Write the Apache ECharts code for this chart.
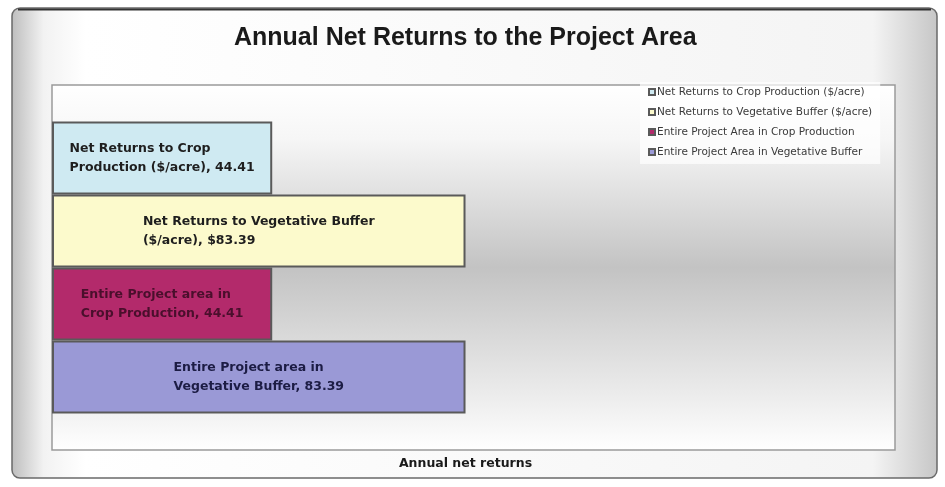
<!DOCTYPE html>
<html>
<head>
<meta charset="utf-8">
<script src="https://cdn.jsdelivr.net/npm/echarts@6/dist/echarts.min.js"></script>
<style>
  html, body { margin: 0; padding: 0; background: #ffffff; }
  #chart { width: 945px; height: 487px; }
</style>
</head>
<body>
<div id="chart"></div>
<script>
// Chart data
const titleText = 'Annual Net Returns to the Project Area';
const axisTitle = 'Annual net returns';
const categories = ['Annual net returns'];
const seriesNames = [
  'Net Returns to Crop Production ($/acre)',
  'Net Returns to Vegetative Buffer ($/acre)',
  'Entire Project Area in Crop Production',
  'Entire Project Area in Vegetative Buffer'
];
const seriesValues = [44.41, 83.39, 44.41, 83.39];
const labelLines = [
  ['Net Returns to Crop', 'Production ($/acre), '],
  ['Net Returns to Vegetative Buffer', '($/acre), $'],
  ['Entire Project area in', 'Crop Production, '],
  ['Entire Project area in', 'Vegetative Buffer, ']
];
const seriesColors = ['#cfeaf2', '#fcfacc', '#b32a6b', '#9a99d6'];
const labelColors = ['#1e1e1e', '#1e1e1e', '#4a0f2c', '#1c1c44'];

const chart = echarts.init(document.getElementById('chart'), null, { renderer: 'canvas' });

const labelFont = 'DejaVu Sans, Verdana, sans-serif';

const series = seriesNames.map((name, i) => ({
  name: name,
  type: 'bar',
  data: [seriesValues[i]],
  barGap: '0%',
  barCategoryGap: '20%',
  itemStyle: {
    color: seriesColors[i],
    borderColor: '#5a5a5a',
    borderWidth: 2
  },
  label: {
    show: true,
    position: 'inside',
    align: 'center',
    // two lines, left-aligned to each other, block centred in the bar
    formatter: (p) => '{t|' + labelLines[i][0] + '}\n{t|' + labelLines[i][1] + p.value.toFixed(2) + '}',
    rich: {
      t: {
        align: 'left',
        color: labelColors[i],
        fontFamily: labelFont,
        fontWeight: 'bold',
        fontSize: 12.5,
        lineHeight: 19
      }
    }
  }
}));

const option = {
  backgroundColor: '#ffffff',
  animation: false,
  graphic: [
    {
      type: 'rect',
      z: -10,
      shape: { x: 12, y: 8, width: 925, height: 470, r: 8 },
      style: {
        fill: new echarts.graphic.LinearGradient(0, 0, 1, 0, [
          { offset: 0, color: '#bdbdbd' },
          { offset: 0.035, color: '#f2f2f2' },
          { offset: 0.08, color: '#ffffff' },
          { offset: 0.93, color: '#f4f4f4' },
          { offset: 1, color: '#c6c6c6' }
        ]),
        stroke: '#6a6a6a',
        lineWidth: 1.5
      }
    },
    {
      type: 'rect',
      z: -9,
      shape: { x: 18, y: 8.5, width: 913, height: 2 },
      style: { fill: '#333333' }
    }
  ],
  title: {
    text: titleText,
    left: 229,
    top: 21,
    textStyle: {
      fontFamily: 'Liberation Sans, Arial, sans-serif',
      fontWeight: 'bold',
      fontSize: 25,
      color: '#1a1a1a'
    }
  },
  legend: {
    orient: 'vertical',
    left: 640,
    top: 82,
    padding: [4, 8, 6, 8],
    backgroundColor: 'rgba(255,255,255,0.7)',
    itemWidth: 6,
    itemHeight: 6,
    itemGap: 8,
    icon: 'rect',
    textStyle: {
      fontFamily: labelFont,
      fontSize: 10.5,
      lineHeight: 12,
      color: '#3a3a3a',
      padding: [0, 0, 0, -3]
    },
    data: seriesNames
  },
  grid: {
    left: 52,
    top: 85,
    right: 50,
    bottom: 37,
    show: true,
    borderColor: '#9a9a9a',
    borderWidth: 1.5,
    backgroundColor: new echarts.graphic.LinearGradient(0, 0, 0, 1, [
      { offset: 0, color: '#ffffff' },
      { offset: 0.15, color: '#f6f6f6' },
      { offset: 0.5, color: '#c3c3c3' },
      { offset: 0.85, color: '#ececec' },
      { offset: 1, color: '#ffffff' }
    ])
  },
  xAxis: {
    type: 'value',
    min: 0,
    max: 170,
    name: axisTitle,
    nameLocation: 'middle',
    nameGap: 7,
    nameTextStyle: {
      fontFamily: labelFont,
      fontWeight: 'bold',
      fontSize: 12.5,
      color: '#1a1a1a',
      padding: [0, 16, 0, 0]
    },
    axisLine: { show: false },
    axisTick: { show: false },
    axisLabel: { show: false },
    splitLine: { show: false }
  },
  yAxis: {
    type: 'category',
    data: categories,
    inverse: true,
    axisLine: { show: false },
    axisTick: { show: false },
    axisLabel: { show: false },
    splitLine: { show: false }
  },
  series: series
};

chart.setOption(option);
</script>
</body>
</html>
